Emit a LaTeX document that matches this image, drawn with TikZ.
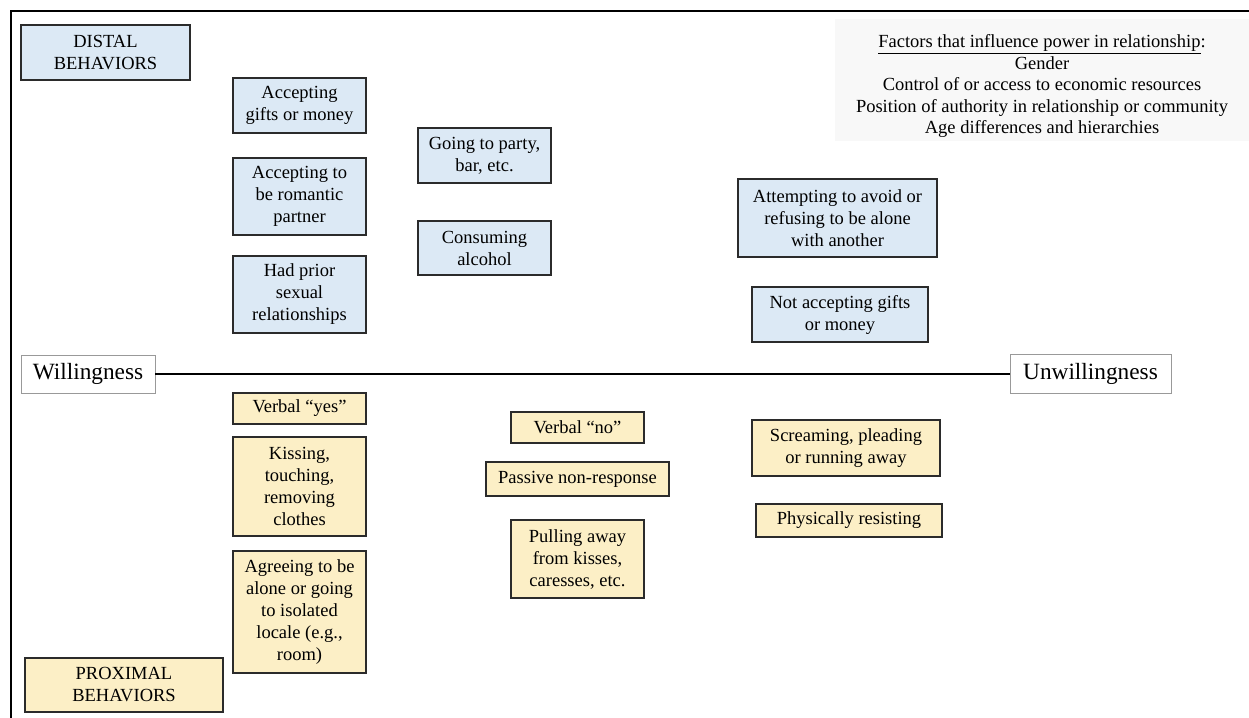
\documentclass[tikz,border=0pt]{standalone}
\usepackage{fontspec}
\setmainfont{Liberation Serif}
\definecolor{distalfill}{HTML}{DCE9F5}
\definecolor{proxfill}{HTML}{FCEFC6}
\definecolor{boxline}{HTML}{2B2B2B}
\definecolor{notefill}{HTML}{F8F8F8}
\begin{document}
\begin{tikzpicture}[x=1pt,y=-1pt,
  base/.style={draw=boxline,line width=1.1pt,align=center,inner sep=0pt,
    font=\fontsize{18.5}{22}\selectfont},
  distal/.style={base,fill=distalfill},
  prox/.style={base,fill=proxfill},
  pole/.style={draw=gray!80,line width=0.8pt,fill=white,inner sep=0pt,
    font=\fontsize{23.3}{27}\selectfont}]
% canvas
\useasboundingbox (0,0) rectangle (1249,717);
\fill[white] (0,0) rectangle (1249,717);
% outer frame (continues past the right and bottom edges)
\draw[line width=2pt] (11,740) -- (11,11) -- (1270,11);

% factors note
\node[fill=notefill,minimum width=414pt,minimum height=122pt,inner sep=0pt,
  align=center,font=\fontsize{18.5}{21.5}\selectfont] (factors) at (1042,80) {};
\node[align=center,inner sep=0pt,font=\fontsize{18.5}{21.5}\selectfont]
  (factorstext) at (1042,86)
  {\underline{Factors that influence power in relationship}:\\
   Gender\\
   Control of or access to economic resources\\
   Position of authority in relationship or community\\
   Age differences and hierarchies};

% distal behaviours
\node[distal,minimum width=169pt,minimum height=55pt] (distal) at (105.5,52.5) {DISTAL\\BEHAVIORS};
\node[distal,minimum width=133pt,minimum height=55pt] (gifts) at (299.5,105.5) {Accepting\\gifts or money};
\node[distal,minimum width=133pt,minimum height=77pt] (romantic) at (299.5,196.5) {Accepting to\\be romantic\\partner};
\node[distal,minimum width=133pt,minimum height=77pt] (prior) at (299.5,294.5) {Had prior\\sexual\\relationships};
\node[distal,minimum width=133pt,minimum height=55pt] (party) at (484.5,155.5) {Going to party,\\bar, etc.};
\node[distal,minimum width=133pt,minimum height=54pt] (alcohol) at (484.5,248) {Consuming\\alcohol};
\node[distal,minimum width=199pt,minimum height=78pt] (avoid) at (837.5,218) {Attempting to avoid or\\refusing to be alone\\with another};
\node[distal,minimum width=176pt,minimum height=55pt] (nogifts) at (840,314.5) {Not accepting gifts\\or money};

% willingness axis
\node[pole,minimum width=134pt,minimum height=38pt] (will) at (88,374) {Willingness};
\node[pole,minimum width=161pt,minimum height=39pt] (unwill) at (1090.5,374) {Unwillingness};
\draw[line width=2.4pt] (will.east) -- (unwill.west);

% proximal behaviours
\node[prox,minimum width=133pt,minimum height=31pt] (yes) at (299.5,408.5) {Verbal “yes”};
\node[prox,minimum width=133pt,minimum height=99pt] (kissing) at (299.5,486.5) {Kissing,\\touching,\\removing\\clothes};
\node[prox,minimum width=133pt,minimum height=122pt] (alone) at (299.5,612) {Agreeing to be\\alone or going\\to isolated\\locale (e.g.,\\room)};
\node[prox,minimum width=198pt,minimum height=54pt] (proximal) at (124,685) {PROXIMAL\\BEHAVIORS};
\node[prox,minimum width=133pt,minimum height=31pt] (no) at (577.5,427.5) {Verbal “no”};
\node[prox,minimum width=183pt,minimum height=34pt] (passive) at (577.5,479) {Passive non-response};
\node[prox,minimum width=133pt,minimum height=78pt] (pulling) at (577.5,559) {Pulling away\\from kisses,\\caresses, etc.};
\node[prox,minimum width=188pt,minimum height=56pt] (scream) at (846,448) {Screaming, pleading\\or running away};
\node[prox,minimum width=186pt,minimum height=33pt] (resist) at (849,520.5) {Physically resisting};
\end{tikzpicture}
\end{document}
